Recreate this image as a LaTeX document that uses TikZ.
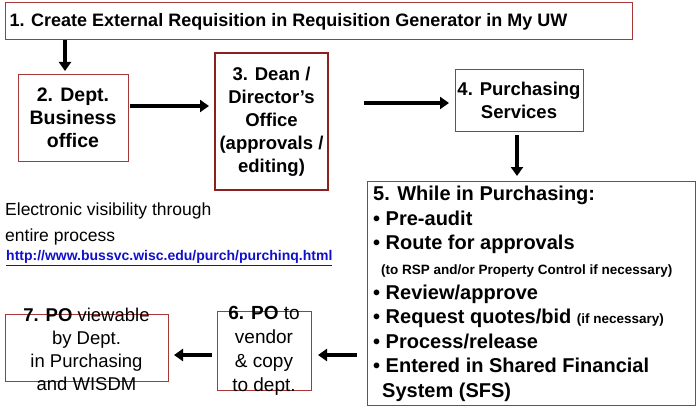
\documentclass[tikz,border=0pt]{standalone}
\usepackage{fontspec}
\setmainfont{Liberation Sans}
\usetikzlibrary{arrows.meta}
\definecolor{bx}{HTML}{A83838}
\definecolor{bx3}{HTML}{8B2020}
\definecolor{lnk}{HTML}{1010CC}
\begin{document}
\begin{tikzpicture}[x=1pt,y=-1pt,
  box/.style={draw=bx,line width=1pt,fill=white},
  ar/.style={line width=3.5pt,-{Triangle[length=9pt,width=12pt]}},
  t/.style={font=\fontsize{18.5}{23}\selectfont\bfseries,align=center,inner sep=0pt}]
\useasboundingbox (0,0) rectangle (700,409);
\draw[box] (5,3) rectangle (632,40);
\node[font=\fontsize{18}{20}\selectfont\bfseries,anchor=west] (n1) at (6,21.5) {1. Create External Requisition in Requisition Generator in My UW};
\draw[box] (18,75) rectangle (128,161);
\node[t,font=\fontsize{19.5}{23}\selectfont\bfseries] (n2) at (73,118) {2. Dept.\\Business\\office};
\draw[box,draw=bx3,line width=1.6pt] (215,53) rectangle (328,190);
\node[t] (n3) at (271.5,121.5) {3. Dean /\\Director’s\\Office\\(approvals /\\editing)};
\draw[box] (455,70) rectangle (583,131);
\node[t] (n4) at (519,100.5) {4. Purchasing\\Services};
\draw[box] (367,181) rectangle (695,405);
\node[anchor=north west,font=\fontsize{20}{24.6}\selectfont\bfseries,align=left,inner sep=0pt] (n5) at (373,186) {5. While in Purchasing:\\
• Pre-audit\\
• Route for approvals\\
\hspace*{8pt}{\fontsize{13.5}{20}\selectfont (to RSP and/or Property Control if necessary)}\\
• Review/approve\\
• Request quotes/bid {\fontsize{13.5}{12}\selectfont (if necessary)}\\
• Process/release\\
• Entered in Shared Financial\\
\hspace*{9pt}System (SFS)};
\draw[box] (217,311) rectangle (311,390);
\node[font=\fontsize{19}{24}\selectfont,align=center,inner sep=0pt] (n6) at (264,350.5) {\textbf{6. PO} to\\vendor\\\& copy\\to dept.};
\draw[box] (5,314) rectangle (168,381);
\node[font=\fontsize{18.5}{23}\selectfont,align=center,inner sep=0pt] (n7) at (86.5,349) {\textbf{7. PO} viewable\\by Dept.\\in Purchasing\\and WISDM};
\node[anchor=north west,font=\fontsize{17.5}{26}\selectfont,align=left,inner sep=0pt] (vis) at (5,203) {Electronic visibility through\\entire process};
\node[anchor=west,font=\fontsize{14}{14}\selectfont\bfseries,text=lnk,inner sep=0pt] (url) at (6,258) {\underline{http://www.bussvc.wisc.edu/purch/purchinq.html}};
\coordinate (a1) at (65,40); \coordinate (b1) at (65,71);
\draw[ar] (a1) -- (b1);
\coordinate (a2) at (130,106); \coordinate (b2) at (209,106);
\draw[ar] (a2) -- (b2);
\coordinate (a3) at (364,103); \coordinate (b3) at (449,103);
\draw[ar] (a3) -- (b3);
\coordinate (a4) at (517,135); \coordinate (b4) at (517,176);
\draw[ar] (a4) -- (b4);
\coordinate (a5) at (357,355); \coordinate (b5) at (318,355);
\draw[ar] (a5) -- (b5);
\coordinate (a6) at (212,355); \coordinate (b6) at (174,355);
\draw[ar] (a6) -- (b6);
\end{tikzpicture}
\end{document}
